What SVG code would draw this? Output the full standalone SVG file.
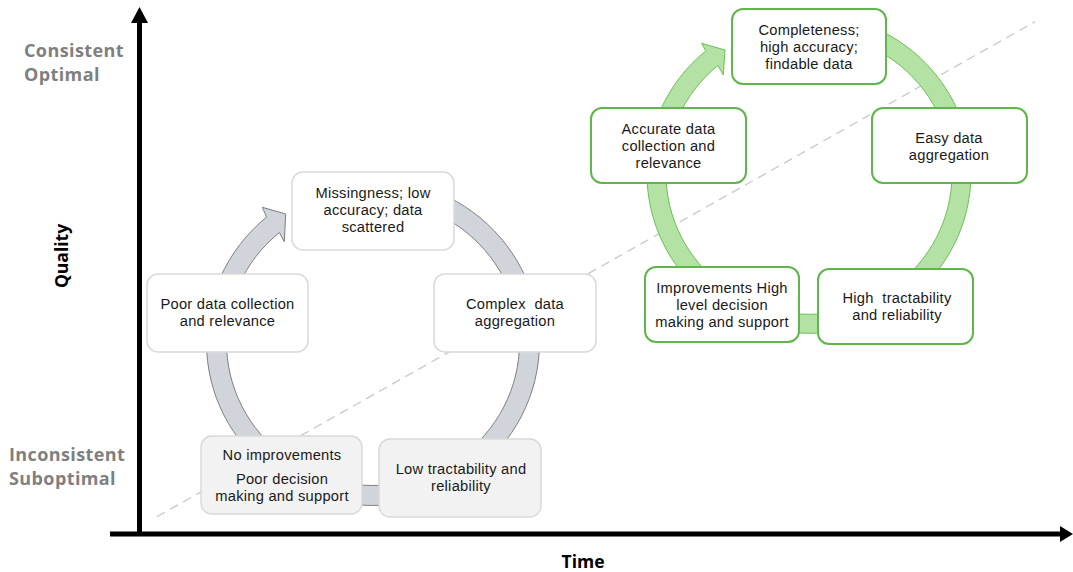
<svg xmlns="http://www.w3.org/2000/svg" width="1073" height="572" viewBox="0 0 1073 572">
<style>
.t{font-family:"Liberation Sans",Arial,sans-serif;font-size:14.7px;letter-spacing:0.25px;fill:#1a1a1a;text-anchor:middle}
.lab{font-family:"Open Sans","Liberation Sans",sans-serif;font-size:18px;font-weight:bold;fill:#7f7f7f;letter-spacing:0.4px}
.ax{font-family:"Open Sans","Liberation Sans",sans-serif;font-size:17.5px;font-weight:bold;fill:#000}
.gb{fill:#ffffff;stroke:#d9d9d9;stroke-width:1.5}
.gb2{fill:#f2f2f2;stroke:#d9d9d9;stroke-width:1.5}
.grb{fill:#ffffff;stroke:#5fb64a;stroke-width:2}
</style>
<rect width="1073" height="572" fill="#ffffff"/>
<g id="trend">
<line x1="157" y1="516.7" x2="1035" y2="21.7" stroke="#c8c8c8" stroke-width="1.3" stroke-dasharray="9,6"/>
</g>
<g id="axes">
<line x1="139.5" y1="534" x2="139.5" y2="20" stroke="#000" stroke-width="5"/>
<polygon points="131,23 148,23 139.5,7" fill="#000"/>
<line x1="110" y1="534" x2="1062" y2="534" stroke="#000" stroke-width="5"/>
<polygon points="1060,526 1060,542 1073,534" fill="#000"/>
<text class="ax" transform="translate(68,256) rotate(-90)" text-anchor="middle">Quality</text>
<text class="ax" x="583" y="568" text-anchor="middle">Time</text>
<text class="lab" x="24" y="57">Consistent</text>
<text class="lab" x="24" y="81">Optimal</text>
<text class="lab" x="9" y="461">Inconsistent</text>
<text class="lab" x="9" y="485">Suboptimal</text>
</g>
<g id="connectors">
<path d="M 373 179.5 A 166.5 163 0 1 1 266.6 217.1 L 262.3 207.3 L 285.7 214 L 284.3 241.7 L 279.4 232.5 A 146.5 143 0 1 0 373 199.5 Z" fill="#d1d5db" stroke="#7f7f7f" stroke-width="1"/>
<path d="M 809 14.3 A 162 159.5 0 1 1 705.7 50.9 L 701.7 43.3 L 725 50 L 723.3 75 L 717.9 65.5 A 143 140.5 0 1 0 809 33.3 Z" fill="#b4e2a4" stroke="#6cbf55" stroke-width="1"/>
</g>
<g id="n-missingness">
<rect class="gb" x="292" y="172" width="162" height="78" rx="11"/>
<text class="t" x="373" y="198">Missingness; low</text>
<text class="t" x="373" y="215">accuracy; data</text>
<text class="t" x="373" y="232">scattered</text>
</g>
<g id="n-poor-collection">
<rect class="gb" x="147" y="274" width="161" height="78" rx="11"/>
<text class="t" x="227.5" y="309">Poor data collection</text>
<text class="t" x="227.5" y="326">and relevance</text>
</g>
<g id="n-complex-aggregation">
<rect class="gb" x="434" y="274" width="162" height="78" rx="11"/>
<text class="t" x="515" y="309" xml:space="preserve">Complex  data</text>
<text class="t" x="515" y="326">aggregation</text>
</g>
<g id="n-no-improvements">
<rect class="gb2" x="201" y="436" width="161" height="78" rx="11"/>
<text class="t" x="282" y="459.5">No improvements</text>
<text class="t" x="282" y="483.5">Poor decision</text>
<text class="t" x="282" y="500.5">making and support</text>
</g>
<g id="n-low-tractability">
<rect class="gb2" x="379" y="439" width="162" height="78" rx="11"/>
<text class="t" x="461" y="474">Low tractability and</text>
<text class="t" x="461" y="491">reliability</text>
</g>
<g id="n-completeness">
<rect class="grb" x="732" y="9" width="154" height="75" rx="11"/>
<text class="t" x="809" y="34.5">Completeness;</text>
<text class="t" x="809" y="51.5">high accuracy;</text>
<text class="t" x="809" y="68.5">findable data</text>
</g>
<g id="n-accurate-collection">
<rect class="grb" x="591" y="108" width="155" height="75" rx="11"/>
<text class="t" x="668.5" y="133.5">Accurate data</text>
<text class="t" x="668.5" y="150.5">collection and</text>
<text class="t" x="668.5" y="167.5">relevance</text>
</g>
<g id="n-easy-aggregation">
<rect class="grb" x="872" y="108" width="155" height="75" rx="11"/>
<text class="t" x="949" y="142.5">Easy data</text>
<text class="t" x="949" y="159.5">aggregation</text>
</g>
<g id="n-improvements">
<rect class="grb" x="645" y="267" width="154" height="75" rx="11"/>
<text class="t" x="722" y="292.5">Improvements High</text>
<text class="t" x="722" y="309.5">level decision</text>
<text class="t" x="722" y="326.5">making and support</text>
</g>
<g id="n-high-tractability">
<rect class="grb" x="818" y="269" width="155" height="75" rx="11"/>
<text class="t" x="897" y="303" xml:space="preserve">High  tractability</text>
<text class="t" x="897" y="320">and reliability</text>
</g>
</svg>
